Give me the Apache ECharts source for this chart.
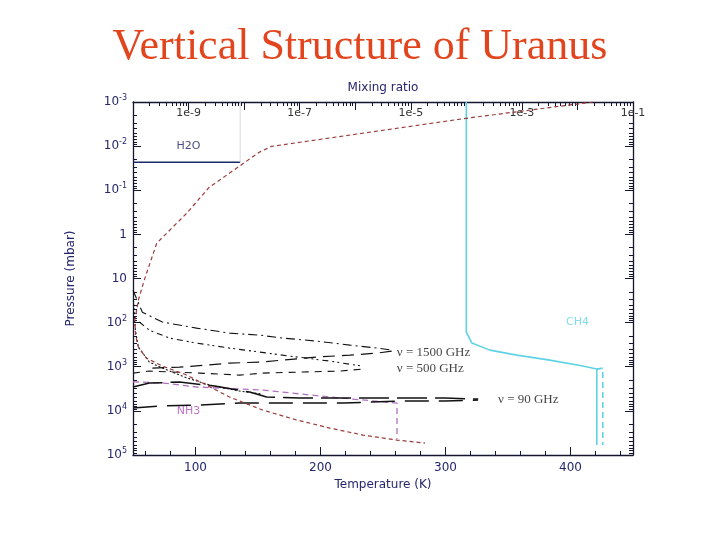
<!DOCTYPE html>
<html><head><meta charset="utf-8">
<script src="https://cdn.jsdelivr.net/npm/echarts@6/dist/echarts.min.js"></script>
<style>html,body{margin:0;padding:0;background:#fff}#c{width:720px;height:540px}</style>
</head><body><div id="c"></div>
<script>
// ---------- data ----------
// Temperature profile: [T (K), P (mbar)]
const tempProfile = [[418,0.001],[316.5,0.00234],[161,0.0101],[151,0.0138],[111,0.0855],[93,0.331],[69,1.58],[59,10.9],[54.3,31],[51.5,88],[52,192],[54.3,359],[60.7,637],[73.5,966],[91.2,1466],[105.6,2344],[127.3,4864],[153.7,9570],[181,16100],[207.5,24500],[233.9,35300],[261.2,45800],[283.6,53600]];
// Mixing ratio profiles: [mixing ratio, P (mbar)]
const h2o = [[1e-10,0.0232],[8.5e-9,0.0232]];
const h2oEdge = [[8.5e-9,0.0232],[8.5e-9,0.001]];
const ch4 = [[1e-4,0.001],[1e-4,164],[1.26e-4,291],[2.65e-4,420],[8.1e-4,545],[3.18e-3,707],[0.0125,966],[0.0223,1130],[0.0223,59400]];
const ch4Alt = [[0.0223,1130],[0.0286,1072],[0.0286,59400]];
const nh3 = [[1e-10,2200],[1.35e-10,2220],[3.5e-10,2340],[1.43e-9,2880],[2.2e-8,3370],[3.5e-7,4860],[5.65e-6,6650],[5.65e-6,43500]];
// Weighting functions: [T-axis position, P (mbar)]
const wf1500a = [[50,18.4],[57.5,58],[73.5,97],[100.8,133],[127.3,173],[151.3,192],[169.8,224],[197,262],[223.5,323],[245.2,378],[257.2,420]];
const wf1500b = [[65.5,1072],[87.2,1018],[108.8,917],[127.3,826],[151.3,785],[169.8,707],[197,604],[223.5,545],[245.2,491],[257.2,442]];
const wf500a = [[55.1,97],[63.1,148],[79.1,224],[100.8,291],[127.3,378],[145.7,442],[175.4,574],[207.5,745],[233.1,966]];
const wf500b = [[50,1393],[63.1,1253],[103.2,1393],[135.3,1545],[153.7,1393],[183.4,1321],[215.4,1253],[233.1,1130]];
const wf90a = [[50,2884],[63.1,2344],[87.2,2223],[115.2,2742],[143.3,3750],[156.9,4864],[183.4,5129],[237.1,5129],[263.6,5129],[299.7,5129],[326.1,5395]];
const wfTail = [[50.3,31],[51.9,148],[54.3,359],[63.1,785],[73.5,1072],[91.2,1714],[111.2,2600],[135.3,3556],[153.7,4159]];
const wf90b = [[50,8630],[71.1,7780],[103.2,7380],[135.3,6653],[153.7,6653],[217.9,6653],[263.6,5998],[299.7,5998],[326.1,5689]];
// Text annotations
const freqLabels = [['ν = 1500 GHz',261,466],['ν = 500 GHz',261,1072],['ν = 90 GHz',342,5689]];
const gasLabels = [['H2O',1e-9,0.01,'#1a2260'],['CH4',1e-2,100,'#5fd3e3'],['NH3',1e-9,1e4,'#b050c0']];
// Axis ticks
const tempTicks = [100,200,300,400];
const tempMinorTicks = [60,80,120,140,160,180,220,240,260,280,320,340,360,380,420,440];
const pressureDecades = [1e-3,1e-2,1e-1,1,10,1e2,1e3,1e4,1e5];
const mixDecades = [1e-10,1e-9,1e-8,1e-7,1e-6,1e-5,1e-4,1e-3,1e-2,1e-1];
const mixLabels = [1e-9,1e-7,1e-5,1e-3,1e-1];

function minorLog(decades){const r=[];for(let i=0;i<decades.length-1;i++){for(let k=2;k<=9;k++)r.push(+(k*decades[i]).toPrecision(3));}return r;}

const navy='#26266e', axisCol='#151530';
const labelFont='DejaVu Sans';
const chart = echarts.init(document.getElementById('c'), null, {renderer:'canvas'});

function yAx(pos, major, showLabel){
  return {type:'log', logBase:10, min:1e-3, max:1e5, inverse:true, position:pos,
    axisLine:{show:major, lineStyle:{color:axisCol,width:1.3}},
    splitLine:{show:false},
    axisTick:{show:true, inside:true, length:major?8:4, lineStyle:{color:axisCol}, customValues: major?pressureDecades:minorLog(pressureDecades)},
    axisLabel:{show:showLabel, customValues:pressureDecades, color:navy, fontFamily:labelFont, fontSize:12, margin:6,
      formatter:function(v){const e=Math.round(Math.log10(v)); if(e===0)return '1'; if(e===1)return '10'; return '10{s|'+e+'}';},
      rich:{s:{fontSize:8, color:navy, fontFamily:labelFont, verticalAlign:'bottom', padding:[0,0,8,0]}}},
    name: showLabel?'Pressure (mbar)':'', nameLocation:'middle', nameGap:56, nameTextStyle:{color:navy, fontFamily:labelFont, fontSize:12}
  };
}

const lineS = (name, data, xi, color, width, type, z) => ({name, type:'line', xAxisIndex:xi, yAxisIndex:0, data, showSymbol:false, symbol:'none', silent:true, animation:false, z:z||2,
  lineStyle:{color, width, type}});

const option = {
  animation:false,
  title:{text:'Vertical Structure of Uranus', left:'center', top:20, textStyle:{fontFamily:'Liberation Serif', fontSize:44, fontWeight:'normal', color:'#e2451e'}},
  grid:{left:133, right:87, top:102, bottom:85},
  xAxis:[
    {type:'value', min:50, max:450, position:'bottom',
      axisLine:{lineStyle:{color:axisCol,width:1.3}}, splitLine:{show:false},
      axisTick:{inside:true, length:8, customValues:tempTicks, lineStyle:{color:axisCol}},
      axisLabel:{customValues:tempTicks, color:navy, fontFamily:labelFont, fontSize:12, margin:7},
      name:'Temperature (K)', nameLocation:'middle', nameGap:20, nameTextStyle:{color:navy, fontFamily:labelFont, fontSize:12}},
    {type:'value', min:50, max:450, position:'bottom',
      axisLine:{show:false}, splitLine:{show:false},
      axisTick:{inside:true, length:4, customValues:tempMinorTicks, lineStyle:{color:axisCol}},
      axisLabel:{show:false}},
    {type:'log', logBase:10, min:1e-10, max:1e-1, position:'top',
      axisLine:{lineStyle:{color:axisCol,width:1.3}}, splitLine:{show:false},
      axisTick:{inside:true, length:8, customValues:mixDecades, lineStyle:{color:axisCol}},
      axisLabel:{inside:true, customValues:mixLabels, color:'#333', fontFamily:labelFont, fontSize:11, margin:6,
        formatter:function(v){return '1e'+Math.round(Math.log10(v));}},
      name:'Mixing ratio', nameLocation:'middle', nameGap:8, nameTextStyle:{color:navy, fontFamily:labelFont, fontSize:12}},
    {type:'log', logBase:10, min:1e-10, max:1e-1, position:'top',
      axisLine:{show:false}, splitLine:{show:false},
      axisTick:{inside:true, length:4, customValues:minorLog(mixDecades), lineStyle:{color:axisCol}},
      axisLabel:{show:false}}
  ],
  yAxis:[yAx('left',true,true), yAx('left',false,false), yAx('right',true,false), yAx('right',false,false)],
  series:[
    lineS('T', tempProfile, 0, '#9b3b3b', 1.2, [4,3], 3),
    lineS('H2O', h2o, 2, '#1a2a6a', 1.6, 'solid'),
    lineS('H2Oedge', h2oEdge, 2, '#d8d8e0', 1, 'solid'),
    lineS('CH4', ch4, 2, '#5fd3e3', 1.6, 'solid'),
    lineS('CH4b', ch4Alt, 2, '#5fd3e3', 1.6, [6,4]),
    lineS('NH3', nh3, 2, '#b070c0', 1.3, [6,4]),
    lineS('w1', wf1500a, 0, '#111', 1.1, [9,4,2,4]),
    lineS('w2', wf1500b, 0, '#111', 1.2, [12,7]),
    lineS('w3', wf500a, 0, '#111', 1.1, [6,4,2,3,2,4]),
    lineS('w4', wf500b, 0, '#111', 1.1, [7,6]),
    lineS('w5', wf90a, 0, '#111', 1.5, [30,8]),
    lineS('w6', wfTail, 0, '#111', 1.1, [2,2]),
    lineS('w7', wf90b, 0, '#111', 1.5, [24,10]),
    {type:'scatter', xAxisIndex:0, yAxisIndex:0, symbolSize:0, silent:true, animation:false,
      data: freqLabels.map(d=>({value:[d[1],d[2]], label:{formatter:d[0]}})),
      label:{show:true, position:'inside', align:'left', verticalAlign:'middle', color:'#111', fontFamily:'Liberation Serif', fontSize:13}},
    {type:'scatter', xAxisIndex:2, yAxisIndex:0, symbolSize:0, silent:true, animation:false,
      data: gasLabels.map(d=>({value:[d[1],d[2]], label:{formatter:d[0], color:d[3]}})),
      label:{show:true, position:'inside', align:'center', verticalAlign:'middle', fontFamily:labelFont, fontSize:11}}
  ]
};
chart.setOption(option);
</script></body></html>
